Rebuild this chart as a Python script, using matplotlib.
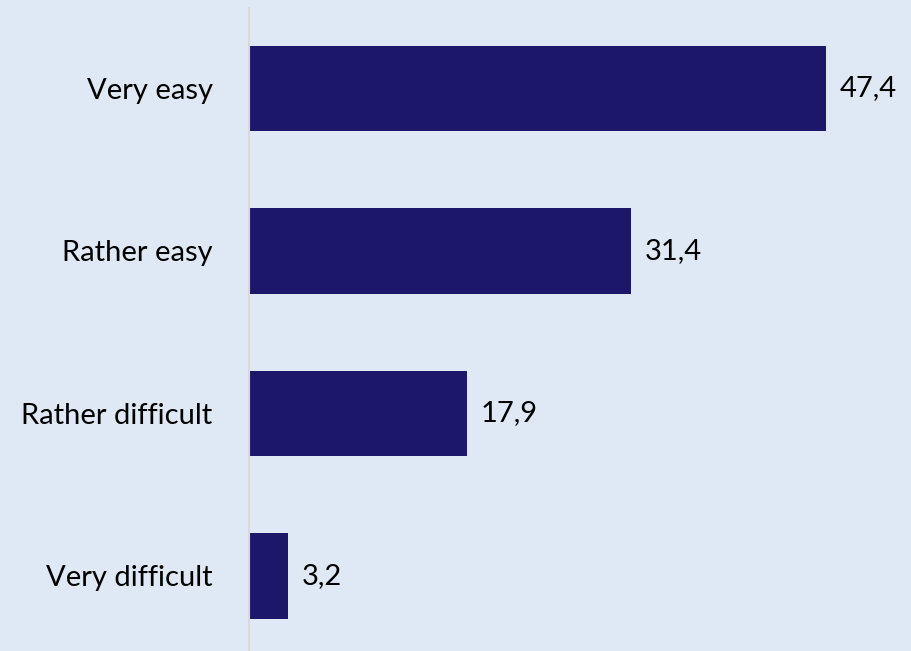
import matplotlib
matplotlib.use("Agg")
import matplotlib.pyplot as plt

# Data
categories = ["Very easy", "Rather easy", "Rather difficult", "Very difficult"]
values = [47.4, 31.4, 17.9, 3.2]
value_labels = ["47,4", "31,4", "17,9", "3,2"]

BG = "#dee9f5"
BAR = "#1c1769"

plt.rcParams["font.family"] = ["Lato", "DejaVu Sans"]

fig = plt.figure(figsize=(9.11, 6.51), dpi=100, facecolor=BG)
ax = fig.add_axes([249.5 / 911, 0, 1 - 249.5 / 911, 1 - 8 / 651], facecolor=BG)

ypos = list(range(len(categories)))
ax.barh(ypos, values, height=0.525, color=BAR)

for y, v, lab in zip(ypos, values, value_labels):
    ax.text(v + 1.1, y, lab, va="center", ha="left", fontsize=21, color="black")

ax.set_xlim(0, 54.4)
ax.set_ylim(3.462, -0.495)
ax.set_yticks(ypos)
ax.set_yticklabels(categories, fontsize=21)
ax.tick_params(axis="y", length=0, pad=26.5)
ax.set_xticks([])

for side in ["top", "right", "bottom"]:
    ax.spines[side].set_visible(False)
ax.spines["left"].set_color("#d9d9d9")
ax.spines["left"].set_linewidth(1.5)

fig.savefig("out.png", dpi=100, facecolor=BG)
